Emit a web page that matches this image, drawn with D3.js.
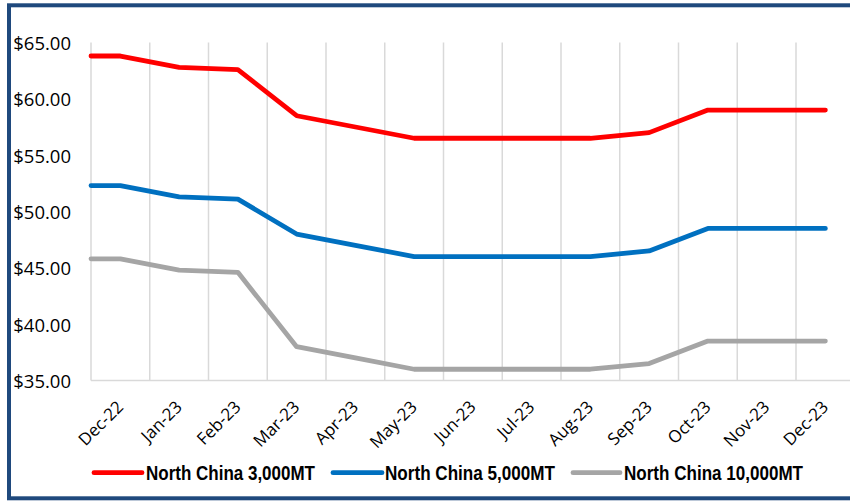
<!DOCTYPE html>
<html>
<head>
<meta charset="utf-8">
<script src="https://cdn.jsdelivr.net/npm/d3@7"></script>
<style>
  html, body { margin: 0; padding: 0; background: #fff; }
  svg { display: block; }
</style>
</head>
<body>
<svg id="chart" width="850" height="501"></svg>
<script>
const categories = ["Dec-22","Jan-23","Feb-23","Mar-23","Apr-23","May-23","Jun-23","Jul-23","Aug-23","Sep-23","Oct-23","Nov-23","Dec-23"];
const seriesNames = ["North China 3,000MT","North China 5,000MT","North China 10,000MT"];
const seriesColors = ["#FF0000","#0070C0","#A5A5A5"];
const north3000 = [63.8, 62.8, 62.6, 58.5, 57.5, 56.5, 56.5, 56.5, 56.5, 57.0, 59.0, 59.0, 59.0];
const north5000 = [52.3, 51.3, 51.1, 48.0, 47.0, 46.0, 46.0, 46.0, 46.0, 46.5, 48.5, 48.5, 48.5];
const north10000 = [45.8, 44.8, 44.6, 38.0, 37.0, 36.0, 36.0, 36.0, 36.0, 36.5, 38.5, 38.5, 38.5];
const yTicks = [35, 40, 45, 50, 55, 60, 65];

const series = [north3000, north5000, north10000];

const svg = d3.select("#chart");
const plotLeft = 91, plotRight = 854.75, plotTop = 42.5, plotBottom = 380.5;

// frame
svg.append("rect")
  .attr("x", 9).attr("y", 5.3).attr("width", 860).attr("height", 493)
  .attr("fill", "none").attr("stroke", "#1F497D").attr("stroke-width", 4);

const x = d3.scaleBand().domain(categories).range([plotLeft, plotRight]).padding(0);
const y = d3.scaleLinear().domain([35, 65]).range([plotBottom, plotTop]);

// vertical gridlines at band boundaries
const bounds = categories.map(c => x(c));
svg.append("g").selectAll("line").data(bounds).join("line")
  .attr("x1", d => d).attr("x2", d => d)
  .attr("y1", y(65)).attr("y2", y(35))
  .attr("stroke", "#D9D9D9").attr("stroke-width", 1.5);

// bottom axis line
svg.append("line")
  .attr("x1", plotLeft).attr("x2", 852).attr("y1", y(35)).attr("y2", y(35))
  .attr("stroke", "#D9D9D9").attr("stroke-width", 1.5);

// y tick labels
svg.append("g").selectAll("text").data(yTicks).join("text")
  .attr("x", 71).attr("y", d => y(d))
  .attr("text-anchor", "end").attr("dominant-baseline", "central")
  .attr("font-family", "'Open Sans', sans-serif").attr("font-size", 18.5)
  .attr("fill", "#000")
  .text(d => "$" + d.toFixed(2));

// x tick labels
svg.append("g").selectAll("text").data(categories).join("text")
  .attr("transform", d => `translate(${x(d) + x.bandwidth() / 2 + 4},${y(35) + 27.5}) rotate(-45)`)
  .attr("text-anchor", "end")
  .attr("font-family", "'Open Sans', sans-serif").attr("font-size", 17)
  .attr("fill", "#000")
  .text(d => d);

// lines
const cx = c => x(c) + x.bandwidth() / 2;
series.forEach((vals, i) => {
  const pts = [[plotLeft, y(vals[0])]].concat(vals.map((v, j) => [cx(categories[j]), y(v)]));
  svg.append("path")
    .attr("d", d3.line()(pts))
    .attr("fill", "none").attr("stroke", seriesColors[i])
    .attr("stroke-width", 4.8).attr("stroke-linecap", "round").attr("stroke-linejoin", "round");
});

// legend
const legendItems = [
  { lx1: 94, lx2: 142, tx: 146, tw: 169 },
  { lx1: 333, lx2: 382, tx: 385, tw: 170 },
  { lx1: 573, lx2: 620, tx: 624, tw: 179 }
];
const lg = svg.append("g");
seriesNames.forEach((name, i) => {
  const it = legendItems[i];
  lg.append("line")
    .attr("x1", it.lx1).attr("x2", it.lx2).attr("y1", 472.7).attr("y2", 472.7)
    .attr("stroke", seriesColors[i]).attr("stroke-width", 4.8).attr("stroke-linecap", "round");
  lg.append("text")
    .attr("x", it.tx).attr("y", 480)
    .attr("font-family", "'Liberation Sans', Arial, sans-serif").attr("font-weight", "bold")
    .attr("font-size", 19.5)
    .attr("textLength", it.tw).attr("lengthAdjust", "spacingAndGlyphs")
    .attr("fill", "#000")
    .text(name);
});
</script>
</body>
</html>
